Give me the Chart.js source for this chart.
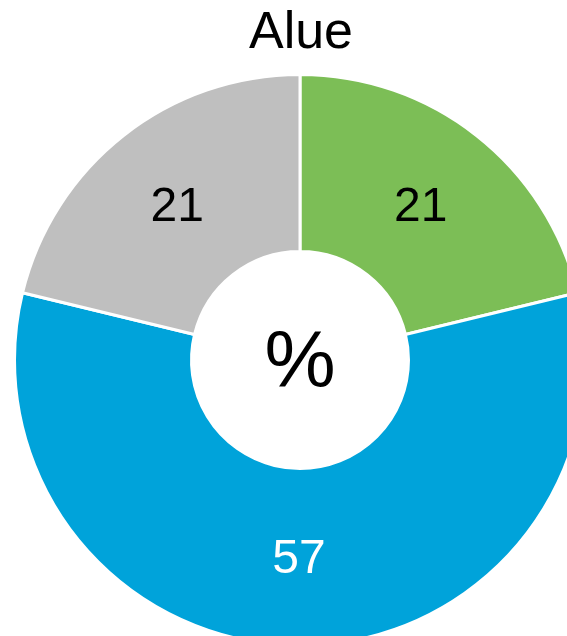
<!DOCTYPE html>
<html>
<head>
<meta charset="utf-8">
<script src="https://cdn.jsdelivr.net/npm/chart.js@4.4.1/dist/chart.umd.min.js"></script>
<style>
  html, body { margin: 0; padding: 0; overflow: hidden; background: #fff; width: 567px; height: 636px; }
  #wrap { position: absolute; left: 0; top: 0; width: 600px; height: 720px; }
</style>
</head>
<body>
<div id="wrap"><canvas id="alueChart"></canvas></div>
<script>
// data
const TITLE = "Alue";
const CENTER_TEXT = "%";
const LABELS = ["Green", "Blue", "Gray"];
const VALUES = [21, 57, 21];
const COLORS = ["#7cbe56", "#00a3da", "#bfbfbf"];
const LABEL_COLORS = ["#000000", "#ffffff", "#000000"];

const FONT = "'Liberation Sans', Arial, sans-serif";

// draws title, center text and the value inside each slice
const textPlugin = {
    id: "textPlugin",
    afterDraw(chart) {
        const ctx = chart.ctx;
        const meta = chart.getDatasetMeta(0);
        const arc0 = meta.data[0];
        const cx = arc0.x, cy = arc0.y;
        ctx.save();
        ctx.textAlign = "center";
        ctx.textBaseline = "middle";
        meta.data.forEach(function (arc, i) {
            const mid = (arc.startAngle + arc.endAngle) / 2;
            const r = (arc.innerRadius + arc.outerRadius) / 2;
            ctx.fillStyle = LABEL_COLORS[i];
            ctx.font = "48px " + FONT;
            ctx.fillText(String(VALUES[i]), cx + Math.cos(mid) * r - 1, cy + Math.sin(mid) * r + 3);
        });
        ctx.fillStyle = "#000";
        ctx.font = "80px " + FONT;
        ctx.fillText(CENTER_TEXT, cx, cy + 5);
        ctx.font = "52px " + FONT;
        ctx.fillText(TITLE, cx + 1, arc0.y - arc0.outerRadius - 41);
        ctx.restore();
    }
};

const alueChart = new Chart(document.getElementById("alueChart"), {
    type: "doughnut",
    data: {
        labels: LABELS,
        datasets: [{
            data: VALUES,
            backgroundColor: COLORS,
            borderColor: "#ffffff",
            borderWidth: 3
        }]
    },
    options: {
        responsive: true,
        maintainAspectRatio: false,
        animation: false,
        cutout: "38%",
        layout: { padding: { left: 13, right: 13, top: 73, bottom: 73 } },
        plugins: {
            legend: { display: false },
            tooltip: { enabled: false }
        }
    },
    plugins: [textPlugin]
});
</script>
</body>
</html>
